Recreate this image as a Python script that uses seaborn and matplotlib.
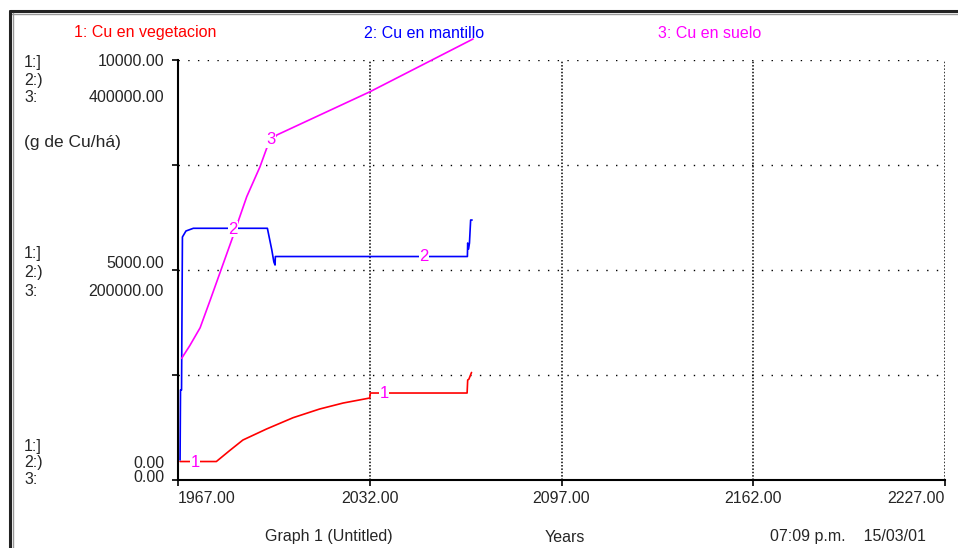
import matplotlib
matplotlib.use("Agg")
import matplotlib.pyplot as plt
import seaborn as sns
import pandas as pd
from matplotlib.lines import Line2D

# 1: Cu en vegetacion (left scale, 0 - 10000)
veg_years = [1967.7, 1980.0, 1984.5, 1989.0, 1997.0, 2006.0, 2015.0, 2023.0, 2032.0, 2032.2,
             2065.0, 2065.2, 2065.6, 2066.5]
veg_values = [440, 440, 700, 952, 1214, 1483, 1690, 1833, 1952, 2071,
              2071, 2381, 2400, 2560]

# 2: Cu en mantillo (left scale, 0 - 10000)
mant_years = [1967.7, 1967.85, 1968.2, 1968.5, 1969.7, 1972.2, 1997.3, 1998.8, 1999.5,
              1999.9, 2000.0, 2065.1, 2065.2, 2065.5, 2065.8, 2066.2, 2066.7]
mant_values = [476, 2143, 2143, 5786, 5929, 5993, 5993, 5476, 5190,
               5119, 5321, 5321, 5643, 5500, 5643, 6190, 6190]

# 3: Cu en suelo (second scale, 0 - 400000)
suelo_years = [1968.25, 1971.0, 1974.5, 1978.0, 1981.2, 1985.6, 1990.3, 1994.8, 1997.1,
               2000.5, 2032.1, 2067.0]
suelo_values = [115905, 128000, 145000, 172000, 197143, 231714, 269810, 298381, 316190,
                328571, 369810, 420000]

x_ticks = [1967, 2032, 2097, 2162, 2227]
y_ticks = [0, 2500, 5000, 7500, 10000]

RED, BLUE, MAG = "#ff0000", "#0000ff", "#ff00ff"

W, H = 958, 548


def fx(x):
    return x / W


def fy(y):
    return 1 - y / H


sns.set_style("white")
plt.rcParams["font.family"] = ["Liberation Sans", "DejaVu Sans"]

fig = plt.figure(figsize=(9.58, 5.48), dpi=100)
ax = fig.add_axes([fx(178), fy(480), (945 - 178) / W, (480 - 60) / H])
ax3 = ax.twinx()

veg = pd.DataFrame({"year": veg_years, "value": veg_values})
mant = pd.DataFrame({"year": mant_years, "value": mant_values})
suelo = pd.DataFrame({"year": suelo_years, "value": suelo_values})

sns.lineplot(data=veg, x="year", y="value", color=RED, lw=1.2, sort=False, estimator=None, ax=ax)
sns.lineplot(data=mant, x="year", y="value", color=BLUE, lw=1.2, sort=False, estimator=None, ax=ax)
sns.lineplot(data=suelo, x="year", y="value", color=MAG, lw=1.2, sort=False, estimator=None, ax=ax3)
ax3.lines[-1].set_clip_on(False)

ax.set_xlim(x_ticks[0], x_ticks[-1])
ax.set_ylim(y_ticks[0], y_ticks[-1])
ax3.set_ylim(0, 400000)

# dotted grid
for yv in y_ticks[1:]:
    ax.axhline(yv, color="black", lw=1.0, ls=(0, (1, 6)), zorder=0)
for xv in x_ticks[1:]:
    ax.axvline(xv, color="black", lw=1.1, ls=(0, (1, 1.2)), zorder=0)

for a in (ax, ax3):
    for s in ("top", "right"):
        a.spines[s].set_visible(False)
ax3.spines["left"].set_visible(False)
ax3.spines["bottom"].set_visible(False)
ax3.set_yticks([])
ax3.set_ylabel("")
ax.spines["left"].set_linewidth(1.5)
ax.spines["bottom"].set_linewidth(1.5)
ax.spines["left"].set_color("black")
ax.spines["bottom"].set_color("black")

ax.set_yticks(y_ticks)
ax.set_yticklabels([])
ax.set_xticks(x_ticks)
ax.set_xticklabels([f"{v:.2f}" for v in x_ticks], fontsize=11.5)
ax.tick_params(axis="both", direction="out", length=4, width=1.2, color="black", pad=4, left=True, bottom=True)
labs = ax.get_xticklabels()
labs[0].set_horizontalalignment("left")
labs[-1].set_horizontalalignment("right")
ax.set_xlabel("")
ax.set_ylabel("")

# number markers on the curves
marks = [(1972.8, 405, "1"), (2036.8, 2071, "1"), (1985.6, 5976, "2"), (2050.4, 5333, "2")]
for xv, yv, s in marks:
    ax3.text(xv, yv, s, transform=ax.transData, color=MAG, fontsize=12, ha="center", va="center",
             bbox=dict(facecolor="white", edgecolor="none", pad=0.5), zorder=5)
ax3.text(1998.5, 323810, "3", color=MAG, fontsize=12, ha="center", va="center",
         bbox=dict(facecolor="white", edgecolor="none", pad=0.5), zorder=5)

# legend header
fig.text(fx(145), fy(33), "1: Cu en vegetacion", color=RED, fontsize=11.5, ha="center", va="center")
fig.text(fx(424), fy(33), "2: Cu en mantillo", color=BLUE, fontsize=11.5, ha="center", va="center")
fig.text(fx(710), fy(33), "3: Cu en suelo", color=MAG, fontsize=11.5, ha="center", va="center")

# left scale labels
groups = [((62, 80, 98), "10000.00", 62, "400000.00", 98),
          ((253, 272, 292), "5000.00", 263, "200000.00", 292),
          ((447, 463, 480), "0.00", 463, "0.00", 478)]
for ys, lab12, y12, lab3, y3 in groups:
    for y, s in zip(ys, ["1:]", "2:)", "3:"]):
        fig.text(fx(24), fy(y), s, fontsize=11.5, ha="left", va="center")
    fig.text(fx(164), fy(y12), lab12, fontsize=11.5, ha="right", va="center")
    fig.text(fx(164), fy(y3), lab3, fontsize=11.5, ha="right", va="center")
fig.text(fx(24), fy(143), "(g de Cu/há)", fontsize=12.5, ha="left", va="center")

# footer
fig.text(fx(329), fy(537), "Graph 1 (Untitled)", fontsize=11.5, ha="center", va="center")
fig.text(fx(565), fy(537), "Years", fontsize=11.5, ha="center", va="center")
fig.text(fx(848), fy(537), "07:09 p.m.    15/03/01", fontsize=11.5, ha="center", va="center")

# window frame
fig.add_artist(Line2D([fx(10), 1], [fy(11), fy(11)], color="#222222", lw=2.2))
fig.add_artist(Line2D([fx(10), 1], [fy(13.5), fy(13.5)], color="#999999", lw=1.0))
fig.add_artist(Line2D([fx(10), fx(10)], [fy(11), 0], color="#222222", lw=2.2))
fig.add_artist(Line2D([fx(12.5), fx(12.5)], [fy(13), 0], color="#999999", lw=1.0))

fig.savefig("out.png", dpi=100)
